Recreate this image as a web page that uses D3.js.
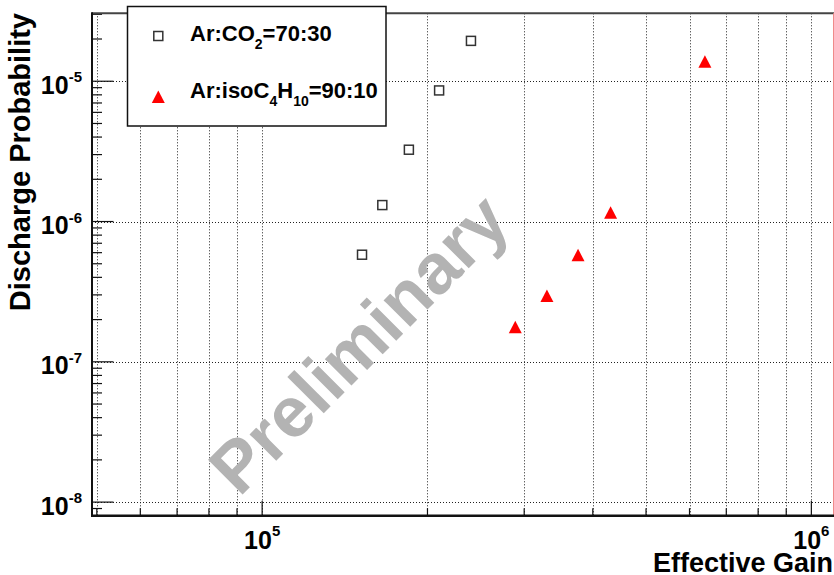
<!DOCTYPE html>
<html>
<head>
<meta charset="utf-8">
<script src="https://cdn.jsdelivr.net/npm/d3@7"></script>
<style>
  html, body { margin: 0; padding: 0; background: #fff; }
  svg { display: block; font-family: "Liberation Sans", Arial, Helvetica, sans-serif; font-weight: bold; }
</style>
</head>
<body>
<svg id="chart" width="834" height="575"></svg>
<script>
// Discharge probability versus effective gain for two gas mixtures
const seriesNames = ["Ar:CO2=70:30", "Ar:isoC4H10=90:10"];
const gainCO2 = [1.52e5, 1.655e5, 1.85e5, 2.10e5, 2.40e5];
const probCO2 = [5.8e-7, 1.31e-6, 3.25e-6, 8.6e-6, 1.94e-5];
const gainIso = [2.89e5, 3.30e5, 3.76e5, 4.31e5, 6.40e5];
const probIso = [1.77e-7, 2.96e-7, 5.77e-7, 1.16e-6, 1.38e-5];

// axis ranges and labelled decades
const xDomain = [4.9e4, 1.095e6];
const yDomain = [8e-9, 3.05e-5];
const xLabelExps = [5, 6];
const yLabelExps = [-5, -6, -7, -8];

const svg = d3.select("#chart");
const L = 92, R = 833, T = 13.3, B = 515.7;

const x = d3.scaleLog().domain(xDomain).range([L, R]);
const y = d3.scaleLog().domain(yDomain).range([B, T]);

const isDecade = v => Math.abs(Math.log10(v) - Math.round(Math.log10(v))) < 1e-9;
const xTicks = x.ticks().filter(v => v >= xDomain[0] && v <= xDomain[1]);
const yTicks = y.ticks().filter(v => v >= yDomain[0] && v <= yDomain[1]);

// dotted grid
const grid = svg.append("g")
  .attr("stroke", "#222").attr("stroke-width", 1).attr("stroke-dasharray", "1,2");
grid.selectAll("line.vx").data(xTicks).join("line")
  .attr("x1", d => Math.round(x(d)) + 0.5).attr("x2", d => Math.round(x(d)) + 0.5)
  .attr("y1", T).attr("y2", B);
grid.selectAll("line.hy").data(yTicks.filter(isDecade)).join("line")
  .attr("y1", d => Math.round(y(d)) + 0.5).attr("y2", d => Math.round(y(d)) + 0.5)
  .attr("x1", L).attr("x2", R);

// watermark
svg.append("text")
  .attr("transform", "translate(376,361) rotate(-45)")
  .attr("text-anchor", "middle")
  .attr("font-size", 71)
  .attr("fill", "#b3b3b3")
  .text("Preliminary");

// ticks
const ticks = svg.append("g").attr("stroke", "#111").attr("stroke-width", 1.2);
ticks.selectAll("line.tx").data(xTicks).join("line")
  .attr("x1", d => x(d)).attr("x2", d => x(d))
  .attr("y1", B).attr("y2", d => B - (isDecade(d) ? 15 : 7.5));
ticks.selectAll("line.ty").data(yTicks).join("line")
  .attr("y1", d => y(d)).attr("y2", d => y(d))
  .attr("x1", L).attr("x2", d => L + (isDecade(d) ? 21.5 : 10));

// frame
svg.append("line").attr("x1", L).attr("x2", 834).attr("y1", T).attr("y2", T)
  .attr("stroke", "#444").attr("stroke-width", 2);
svg.append("line").attr("x1", R + 0.5).attr("x2", R + 0.5).attr("y1", T).attr("y2", B)
  .attr("stroke", "#f08a8a").attr("stroke-width", 1);
svg.append("line").attr("x1", L).attr("x2", L).attr("y1", T - 1).attr("y2", B + 1)
  .attr("stroke", "#111").attr("stroke-width", 2);
svg.append("line").attr("x1", L - 1).attr("x2", 834).attr("y1", B).attr("y2", B)
  .attr("stroke", "#111").attr("stroke-width", 2.5);

// tick labels: 10 with superscript exponent
svg.selectAll("text.xl").data(xLabelExps).join("text")
  .attr("x", d => x(Math.pow(10, d)))
  .attr("y", B + 33)
  .attr("text-anchor", "middle")
  .attr("font-size", 25)
  .each(function(d) {
    const t = d3.select(this);
    t.append("tspan").text("10");
    t.append("tspan").attr("font-size", 15).attr("dy", -13).text(d);
  });
svg.selectAll("text.yl").data(yLabelExps).join("text")
  .attr("x", 82)
  .attr("y", d => y(Math.pow(10, d)) + 12.5)
  .attr("text-anchor", "end")
  .attr("font-size", 25)
  .each(function(d) {
    const t = d3.select(this);
    t.append("tspan").text("10");
    t.append("tspan").attr("font-size", 15).attr("dy", -11.5).text(d);
  });

// axis titles
svg.append("text")
  .attr("x", 833).attr("y", 572)
  .attr("text-anchor", "end").attr("font-size", 27)
  .text("Effective Gain");
svg.append("text")
  .attr("transform", "translate(30,13) rotate(-90)")
  .attr("text-anchor", "end").attr("font-size", 29)
  .text("Discharge Probability");

// markers
const squareSide = 9;
const triPath = (cx, cy) => {
  const w = 13, h = 12.5;
  return `M${cx},${cy - h / 2}L${cx + w / 2},${cy + h / 2}L${cx - w / 2},${cy + h / 2}Z`;
};
const co2 = d3.zip(gainCO2, probCO2);
const iso = d3.zip(gainIso, probIso);

svg.append("g").selectAll("rect").data(co2).join("rect")
  .attr("x", d => x(d[0]) - squareSide / 2)
  .attr("y", d => y(d[1]) - squareSide / 2)
  .attr("width", squareSide).attr("height", squareSide)
  .attr("fill", "none").attr("stroke", "#333").attr("stroke-width", 1.5);
svg.append("g").selectAll("path").data(iso).join("path")
  .attr("d", d => triPath(x(d[0]), y(d[1])))
  .attr("fill", "#ff0000");

// legend
const lg = svg.append("g");
lg.append("rect").attr("x", 127.5).attr("y", 6.5).attr("width", 258.5).attr("height", 119.5)
  .attr("fill", "#fff").attr("stroke", "#111").attr("stroke-width", 1.5);
lg.append("rect").attr("x", 158.3 - squareSide / 2).attr("y", 36 - squareSide / 2)
  .attr("width", squareSide).attr("height", squareSide)
  .attr("fill", "none").attr("stroke", "#333").attr("stroke-width", 1.5);
lg.append("path").attr("d", triPath(158.3, 96.7)).attr("fill", "#ff0000");

const t1 = lg.append("text").attr("x", 190).attr("y", 40.7).attr("font-size", 22);
t1.append("tspan").text("Ar:CO");
t1.append("tspan").attr("font-size", 14).attr("dy", 8).text("2");
t1.append("tspan").attr("dy", -8).text("=70:30");

const t2 = lg.append("text").attr("x", 190).attr("y", 98.3).attr("font-size", 22);
t2.append("tspan").text("Ar:isoC");
t2.append("tspan").attr("font-size", 14).attr("dy", 8).text("4");
t2.append("tspan").attr("dy", -8).text("H");
t2.append("tspan").attr("font-size", 14).attr("dy", 8).text("10");
t2.append("tspan").attr("dy", -8).text("=90:10");
</script>
</body>
</html>
